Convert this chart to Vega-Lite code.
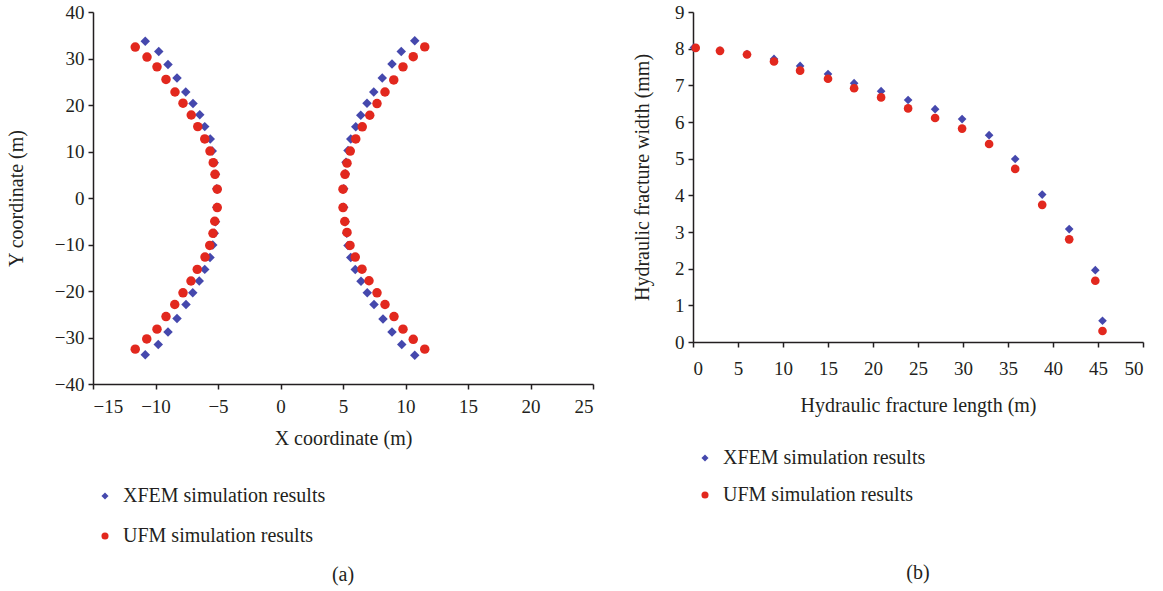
{
  "$schema": "https://vega.github.io/schema/vega-lite/v6.json",
  "background": "white",
  "padding": {"left": 6, "top": 3, "right": 2, "bottom": 2},
  "datasets": {
    "a": [
      {"series": "XFEM simulation results", "x": 10.74, "y": 33.8},
      {"series": "XFEM simulation results", "x": 9.66, "y": 31.5},
      {"series": "XFEM simulation results", "x": 8.92, "y": 28.8},
      {"series": "XFEM simulation results", "x": 8.14, "y": 25.8},
      {"series": "XFEM simulation results", "x": 7.46, "y": 22.8},
      {"series": "XFEM simulation results", "x": 6.92, "y": 20.4},
      {"series": "XFEM simulation results", "x": 6.42, "y": 17.8},
      {"series": "XFEM simulation results", "x": 6.02, "y": 15.3},
      {"series": "XFEM simulation results", "x": 5.62, "y": 12.7},
      {"series": "XFEM simulation results", "x": 5.40, "y": 10.2},
      {"series": "XFEM simulation results", "x": 5.24, "y": 7.7},
      {"series": "XFEM simulation results", "x": 5.18, "y": 5.2},
      {"series": "XFEM simulation results", "x": 5.06, "y": 2.0},
      {"series": "XFEM simulation results", "x": 5.06, "y": -2.0},
      {"series": "XFEM simulation results", "x": 5.18, "y": -5.1},
      {"series": "XFEM simulation results", "x": 5.30, "y": -7.6},
      {"series": "XFEM simulation results", "x": 5.40, "y": -10.2},
      {"series": "XFEM simulation results", "x": 5.62, "y": -12.8},
      {"series": "XFEM simulation results", "x": 5.98, "y": -15.4},
      {"series": "XFEM simulation results", "x": 6.44, "y": -17.9},
      {"series": "XFEM simulation results", "x": 6.94, "y": -20.4},
      {"series": "XFEM simulation results", "x": 7.48, "y": -22.9},
      {"series": "XFEM simulation results", "x": 8.20, "y": -26.0},
      {"series": "XFEM simulation results", "x": 8.92, "y": -28.8},
      {"series": "XFEM simulation results", "x": 9.70, "y": -31.5},
      {"series": "XFEM simulation results", "x": 10.74, "y": -33.8},
      {"series": "XFEM simulation results", "x": -10.82, "y": 33.7},
      {"series": "XFEM simulation results", "x": -9.74, "y": 31.5},
      {"series": "XFEM simulation results", "x": -9.0, "y": 28.7},
      {"series": "XFEM simulation results", "x": -8.28, "y": 25.8},
      {"series": "XFEM simulation results", "x": -7.58, "y": 22.8},
      {"series": "XFEM simulation results", "x": -7.0, "y": 20.3},
      {"series": "XFEM simulation results", "x": -6.46, "y": 17.9},
      {"series": "XFEM simulation results", "x": -6.06, "y": 15.35},
      {"series": "XFEM simulation results", "x": -5.62, "y": 12.7},
      {"series": "XFEM simulation results", "x": -5.46, "y": 10.1},
      {"series": "XFEM simulation results", "x": -5.30, "y": 7.6},
      {"series": "XFEM simulation results", "x": -5.20, "y": 5.1},
      {"series": "XFEM simulation results", "x": -5.10, "y": 2.0},
      {"series": "XFEM simulation results", "x": -5.10, "y": -2.0},
      {"series": "XFEM simulation results", "x": -5.20, "y": -5.1},
      {"series": "XFEM simulation results", "x": -5.30, "y": -7.6},
      {"series": "XFEM simulation results", "x": -5.42, "y": -10.1},
      {"series": "XFEM simulation results", "x": -5.64, "y": -12.8},
      {"series": "XFEM simulation results", "x": -6.06, "y": -15.35},
      {"series": "XFEM simulation results", "x": -6.5, "y": -17.85},
      {"series": "XFEM simulation results", "x": -7.02, "y": -20.4},
      {"series": "XFEM simulation results", "x": -7.56, "y": -22.9},
      {"series": "XFEM simulation results", "x": -8.28, "y": -25.9},
      {"series": "XFEM simulation results", "x": -9.0, "y": -28.8},
      {"series": "XFEM simulation results", "x": -9.78, "y": -31.5},
      {"series": "XFEM simulation results", "x": -10.82, "y": -33.7},
      {"series": "UFM simulation results", "x": 11.54, "y": 32.5},
      {"series": "UFM simulation results", "x": 10.62, "y": 30.4},
      {"series": "UFM simulation results", "x": 9.80, "y": 28.2},
      {"series": "UFM simulation results", "x": 9.06, "y": 25.4},
      {"series": "UFM simulation results", "x": 8.36, "y": 22.8},
      {"series": "UFM simulation results", "x": 7.72, "y": 20.3},
      {"series": "UFM simulation results", "x": 7.14, "y": 17.8},
      {"series": "UFM simulation results", "x": 6.54, "y": 15.3},
      {"series": "UFM simulation results", "x": 6.02, "y": 12.7},
      {"series": "UFM simulation results", "x": 5.58, "y": 10.1},
      {"series": "UFM simulation results", "x": 5.32, "y": 7.5},
      {"series": "UFM simulation results", "x": 5.16, "y": 5.1},
      {"series": "UFM simulation results", "x": 5.00, "y": 1.9},
      {"series": "UFM simulation results", "x": 5.00, "y": -2.05},
      {"series": "UFM simulation results", "x": 5.14, "y": -5.05},
      {"series": "UFM simulation results", "x": 5.32, "y": -7.4},
      {"series": "UFM simulation results", "x": 5.56, "y": -10.2},
      {"series": "UFM simulation results", "x": 5.98, "y": -12.7},
      {"series": "UFM simulation results", "x": 6.52, "y": -15.3},
      {"series": "UFM simulation results", "x": 7.08, "y": -17.8},
      {"series": "UFM simulation results", "x": 7.72, "y": -20.4},
      {"series": "UFM simulation results", "x": 8.36, "y": -22.9},
      {"series": "UFM simulation results", "x": 9.08, "y": -25.5},
      {"series": "UFM simulation results", "x": 9.80, "y": -28.2},
      {"series": "UFM simulation results", "x": 10.62, "y": -30.4},
      {"series": "UFM simulation results", "x": 11.54, "y": -32.5},
      {"series": "UFM simulation results", "x": -11.62, "y": 32.45},
      {"series": "UFM simulation results", "x": -10.68, "y": 30.3},
      {"series": "UFM simulation results", "x": -9.88, "y": 28.2},
      {"series": "UFM simulation results", "x": -9.16, "y": 25.5},
      {"series": "UFM simulation results", "x": -8.44, "y": 22.8},
      {"series": "UFM simulation results", "x": -7.8, "y": 20.4},
      {"series": "UFM simulation results", "x": -7.14, "y": 17.85},
      {"series": "UFM simulation results", "x": -6.62, "y": 15.35},
      {"series": "UFM simulation results", "x": -6.06, "y": 12.7},
      {"series": "UFM simulation results", "x": -5.64, "y": 10.1},
      {"series": "UFM simulation results", "x": -5.38, "y": 7.6},
      {"series": "UFM simulation results", "x": -5.24, "y": 5.1},
      {"series": "UFM simulation results", "x": -5.06, "y": 1.9},
      {"series": "UFM simulation results", "x": -5.06, "y": -2.05},
      {"series": "UFM simulation results", "x": -5.26, "y": -5.0},
      {"series": "UFM simulation results", "x": -5.4, "y": -7.6},
      {"series": "UFM simulation results", "x": -5.66, "y": -10.2},
      {"series": "UFM simulation results", "x": -6.04, "y": -12.7},
      {"series": "UFM simulation results", "x": -6.66, "y": -15.35},
      {"series": "UFM simulation results", "x": -7.16, "y": -17.85},
      {"series": "UFM simulation results", "x": -7.8, "y": -20.4},
      {"series": "UFM simulation results", "x": -8.46, "y": -22.9},
      {"series": "UFM simulation results", "x": -9.16, "y": -25.5},
      {"series": "UFM simulation results", "x": -9.88, "y": -28.2},
      {"series": "UFM simulation results", "x": -10.7, "y": -30.3},
      {"series": "UFM simulation results", "x": -11.62, "y": -32.5}
    ],
    "b": [
      {"series": "XFEM simulation results", "x": 0.1, "y": 8.03},
      {"series": "XFEM simulation results", "x": 3.0, "y": 7.95},
      {"series": "XFEM simulation results", "x": 6.0, "y": 7.85},
      {"series": "XFEM simulation results", "x": 9.0, "y": 7.72},
      {"series": "XFEM simulation results", "x": 11.9, "y": 7.53},
      {"series": "XFEM simulation results", "x": 15.0, "y": 7.31},
      {"series": "XFEM simulation results", "x": 17.9, "y": 7.06},
      {"series": "XFEM simulation results", "x": 20.9, "y": 6.84},
      {"series": "XFEM simulation results", "x": 23.9, "y": 6.60},
      {"series": "XFEM simulation results", "x": 26.9, "y": 6.35},
      {"series": "XFEM simulation results", "x": 29.9, "y": 6.08},
      {"series": "XFEM simulation results", "x": 32.9, "y": 5.64},
      {"series": "XFEM simulation results", "x": 35.8, "y": 4.99},
      {"series": "XFEM simulation results", "x": 38.8, "y": 4.02},
      {"series": "XFEM simulation results", "x": 41.8, "y": 3.08},
      {"series": "XFEM simulation results", "x": 44.7, "y": 1.96},
      {"series": "XFEM simulation results", "x": 45.5, "y": 0.58},
      {"series": "UFM simulation results", "x": 0.3, "y": 8.02},
      {"series": "UFM simulation results", "x": 3.0, "y": 7.94},
      {"series": "UFM simulation results", "x": 6.0, "y": 7.84},
      {"series": "UFM simulation results", "x": 9.0, "y": 7.65},
      {"series": "UFM simulation results", "x": 11.9, "y": 7.40},
      {"series": "UFM simulation results", "x": 15.0, "y": 7.18},
      {"series": "UFM simulation results", "x": 17.9, "y": 6.92},
      {"series": "UFM simulation results", "x": 20.9, "y": 6.67},
      {"series": "UFM simulation results", "x": 23.9, "y": 6.37},
      {"series": "UFM simulation results", "x": 26.9, "y": 6.11},
      {"series": "UFM simulation results", "x": 29.9, "y": 5.82},
      {"series": "UFM simulation results", "x": 32.9, "y": 5.40},
      {"series": "UFM simulation results", "x": 35.8, "y": 4.72},
      {"series": "UFM simulation results", "x": 38.8, "y": 3.74},
      {"series": "UFM simulation results", "x": 41.8, "y": 2.80},
      {"series": "UFM simulation results", "x": 44.7, "y": 1.67},
      {"series": "UFM simulation results", "x": 45.5, "y": 0.30}
    ]
  },
  "config": {
    "font": "Liberation Serif",
    "view": {"stroke": null},
    "axis": {
      "grid": false,
      "domainColor": "#231f20",
      "tickColor": "#231f20",
      "labelColor": "#231f20",
      "titleColor": "#231f20",
      "labelFontSize": 19,
      "titleFontSize": 20,
      "titleFontWeight": "normal",
      "tickSize": 5,
      "domainWidth": 1.5,
      "tickWidth": 1.5,
      "labelPadding": 4
    },
    "legend": {
      "orient": "none",
      "direction": "vertical",
      "labelFontSize": 20,
      "labelColor": "#231f20",
      "labelLimit": 0,
      "symbolSize": 50,
      "symbolStrokeWidth": 0,
      "labelOffset": 8,
      "padding": 0
    },
    "title": {
      "fontSize": 20,
      "fontWeight": "normal",
      "color": "#231f20",
      "orient": "bottom",
      "anchor": "middle",
      "frame": "group"
    }
  },
  "spacing": 38,
  "resolve": {
    "scale": {"color": "independent", "shape": "independent"},
    "legend": {"color": "independent", "shape": "independent"}
  },
  "hconcat": [
    {
      "width": 500,
      "height": 372,
      "data": {"name": "a"},
      "title": {"text": "(a)", "offset": 19},
      "mark": {"type": "point", "filled": true, "opacity": 1, "size": 90},
      "encoding": {
        "x": {
          "field": "x", "type": "quantitative",
          "scale": {"domain": [-15, 25], "nice": false, "zero": false},
          "axis": {"values": [-15, -10, -5, 0, 5, 10, 15, 20, 25], "title": "X coordinate (m)", "labelPadding": 8, "titlePadding": 12}
        },
        "y": {
          "field": "y", "type": "quantitative",
          "scale": {"domain": [-40, 40], "nice": false, "zero": false},
          "axis": {"values": [-40, -30, -20, -10, 0, 10, 20, 30, 40], "title": "Y coordinate (m)", "titlePadding": 28}
        },
        "color": {
          "field": "series", "type": "nominal",
          "scale": {"domain": ["XFEM simulation results", "UFM simulation results"], "range": ["#4548AD", "#E2281E"]},
          "legend": {"title": null, "legendX": 2, "legendY": 474, "rowPadding": 20}
        },
        "shape": {
          "field": "series", "type": "nominal",
          "scale": {"domain": ["XFEM simulation results", "UFM simulation results"], "range": ["diamond", "circle"]},
          "legend": {"title": null, "legendX": 2, "legendY": 474, "rowPadding": 20}
        }
      }
    },
    {
      "width": 450,
      "height": 330,
      "data": {"name": "b"},
      "title": {"text": "(b)", "offset": 58},
      "mark": {"type": "point", "filled": true, "opacity": 1, "size": 75},
      "encoding": {
        "x": {
          "field": "x", "type": "quantitative",
          "scale": {"domain": [0, 50], "nice": false},
          "axis": {"values": [0, 5, 10, 15, 20, 25, 30, 35, 40, 45, 50], "title": "Hydraulic fracture length (m)", "labelPadding": 12, "titlePadding": 17}
        },
        "y": {
          "field": "y", "type": "quantitative",
          "scale": {"domain": [0, 9], "nice": false},
          "axis": {"values": [0, 1, 2, 3, 4, 5, 6, 7, 8, 9], "title": "Hydraulic fracture width (mm)", "titlePadding": 22}
        },
        "color": {
          "field": "series", "type": "nominal",
          "scale": {"domain": ["XFEM simulation results", "UFM simulation results"], "range": ["#4548AD", "#E2281E"]},
          "legend": {"title": null, "legendX": 2, "legendY": 436, "rowPadding": 17}
        },
        "shape": {
          "field": "series", "type": "nominal",
          "scale": {"domain": ["XFEM simulation results", "UFM simulation results"], "range": ["diamond", "circle"]},
          "legend": {"title": null, "legendX": 2, "legendY": 436, "rowPadding": 17}
        }
      }
    }
  ]
}
